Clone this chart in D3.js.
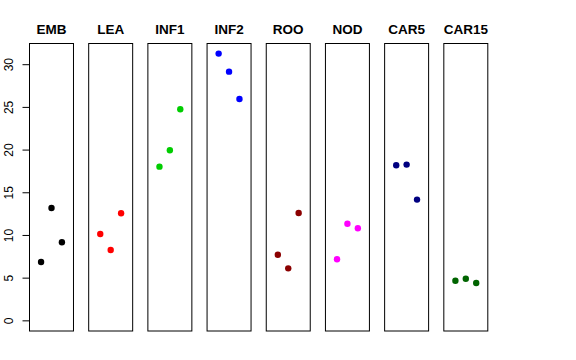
<!DOCTYPE html>
<html>
<head>
<meta charset="utf-8">
<script src="https://cdn.jsdelivr.net/npm/d3@7"></script>
<style>
  body { margin: 0; background: #fff; }
  text { font-family: "Liberation Sans", Arial, sans-serif; }
</style>
</head>
<body>
<div id="grafica"></div>
<script>
// datos
var grupos = ["EMB", "LEA", "INF1", "INF2", "ROO", "NOD", "CAR5", "CAR15"];
var colores = ["#000000", "#ff0000", "#00cd00", "#0000ff", "#8b0000", "#ff00ff", "#000080", "#006400"];
var valores = [
  [6.83, 13.16, 9.14],
  [10.11, 8.24, 12.54],
  [18.0, 19.92, 24.73],
  [31.24, 29.13, 25.93],
  [7.69, 6.09, 12.57],
  [7.15, 11.32, 10.78],
  [18.16, 18.24, 14.14],
  [4.64, 4.88, 4.37]
];
var yTicks = [0, 5, 10, 15, 20, 25, 30];

var width = 576, height = 360;

var svg = d3.select("#grafica")
  .append("svg")
  .attr("width", width)
  .attr("height", height);

// escala de paneles
var panel = d3.scaleBand()
  .domain(grupos)
  .range([29, 488.3])
  .paddingInner(0.24)
  .paddingOuter(0);

// eje y comun (ylim 0..31.2 con 4% extra)
var y = d3.scaleLinear()
  .domain([-1.248, 32.448])
  .range([331, 43.3]);

// x dentro de cada panel (xlim 0..4 con 4% extra)
var x = d3.scaleLinear()
  .domain([-0.16, 4.16])
  .range([0, panel.bandwidth()]);

var g = svg.selectAll("g.panel")
  .data(grupos)
  .enter()
  .append("g")
  .attr("class", "panel")
  .attr("transform", function (d) { return "translate(" + panel(d) + ",0)"; });

g.append("rect")
  .attr("x", 0.5)
  .attr("y", 43.5)
  .attr("width", panel.bandwidth() - 1)
  .attr("height", 331 - 43.5)
  .style("fill", "none")
  .style("stroke", "#000")
  .style("stroke-width", 1);

g.append("text")
  .attr("x", panel.bandwidth() / 2)
  .attr("y", 33.5)
  .attr("text-anchor", "middle")
  .style("font-weight", "bold")
  .style("font-size", "13.5px")
  .text(function (d) { return d; });

g.selectAll("circle")
  .data(function (d, i) {
    return valores[i].map(function (v, j) { return { v: v, j: j + 1, c: colores[i] }; });
  })
  .enter()
  .append("circle")
  .attr("cx", function (d) { return x(d.j); })
  .attr("cy", function (d) { return y(d.v); })
  .attr("r", 3.2)
  .style("fill", function (d) { return d.c; });

// eje y solo en el primer panel
var eje = svg.append("g")
  .attr("transform", "translate(" + (panel("EMB") + 0.5) + ",0)")
  .call(d3.axisLeft(y).tickValues(yTicks).tickSize(7).tickSizeOuter(0));
eje.select(".domain").remove();
eje.selectAll(".tick line").attr("stroke", "#000");
eje.selectAll(".tick text")
  .attr("transform", "rotate(-90)")
  .attr("x", 0)
  .attr("y", -16.8)
  .attr("dy", 0)
  .attr("text-anchor", "middle")
  .style("font-family", "Liberation Sans, Arial, sans-serif")
  .style("font-size", "12px")
  .attr("fill", "#000");
</script>
</body>
</html>
